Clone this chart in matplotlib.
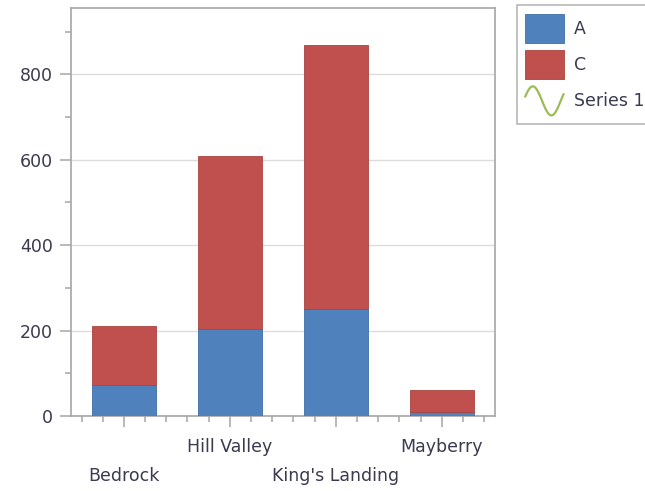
import numpy as np
import matplotlib
matplotlib.use("Agg")
import matplotlib.pyplot as plt
from matplotlib.lines import Line2D
from matplotlib.ticker import MultipleLocator
from matplotlib.legend_handler import HandlerBase

categories = ["Bedrock", "Hill Valley", "King's Landing", "Mayberry"]
series_a = [73, 203, 250, 10]
series_c = [137, 405, 618, 51]
series1 = []  # line series with no visible points

BLUE = "#4F81BD"
RED = "#C0504D"
GREEN = "#9BBB59"
TEXT = "#3a3a50"

plt.rcParams['font.family'] = ['DejaVu Sans']

fig = plt.figure(figsize=(6.45, 4.91), dpi=100)
ax = fig.add_axes([0.110, 0.1527, 0.657, 0.831])

x = np.arange(len(categories))
ax.bar(x, series_a, width=0.6, color=BLUE, edgecolor="#3f6fa8", linewidth=0.6, label="A", zorder=3)
ax.bar(x, series_c, width=0.6, bottom=series_a, color=RED, edgecolor="#a84440", linewidth=0.6, label="C", zorder=3)
ax.plot(x[:len(series1)], series1, color=GREEN, label="Series 1")

ax.set_xlim(-0.5, 3.5)
ax.set_ylim(0, 955)
ax.yaxis.set_major_locator(MultipleLocator(200))
ax.yaxis.set_minor_locator(MultipleLocator(100))
ax.grid(axis='y', which='major', color='#dcdcdc', linewidth=1, zorder=0)

ax.set_xticks(x)
ax.set_xticklabels(categories)
ax.set_xticks(np.arange(-0.4, 3.5, 0.2), minor=True)

for s in ax.spines.values():
    s.set_color('#a6a6a6')
    s.set_linewidth(1.2)

ax.tick_params(axis='both', which='major', length=8, width=1.1, color='#a6a6a6',
               labelsize=12.5, labelcolor=TEXT)
ax.tick_params(axis='both', which='minor', length=4, width=1.1, color='#a6a6a6')
ax.tick_params(axis='y', which='major', pad=5)

for i, t in enumerate(ax.xaxis.get_major_ticks()):
    t.set_pad(8 if i % 2 == 1 else 29)


class WaveHandler(HandlerBase):
    def create_artists(self, legend, orig_handle, xdescent, ydescent, width, height, fontsize, trans):
        xs = np.linspace(0, width, 50)
        ys = height / 2 + height * 0.5 * np.sin(np.linspace(np.pi * 0.1, np.pi * 2.15, 50))
        ln = Line2D(xs - xdescent, ys - ydescent, color=GREEN, linewidth=1.6)
        ln.set_transform(trans)
        return [ln]


handles, labels = ax.get_legend_handles_labels()
order = [labels.index("A"), labels.index("C"), labels.index("Series 1")]
leg = fig.legend([handles[i] for i in order], [labels[i] for i in order],
                 loc='upper left', bbox_to_anchor=(0.801, 0.99), frameon=True,
                 fancybox=False, edgecolor='#a6a6a6', fontsize=12.5,
                 handlelength=2.2, handleheight=2.2, labelspacing=0.42,
                 handletextpad=0.6, borderpad=0.5, borderaxespad=0,
                 handler_map={handles[order[2]]: WaveHandler()})
for t in leg.get_texts():
    t.set_color(TEXT)
leg.get_frame().set_linewidth(1.2)

fig.savefig("out.png", dpi=100)
